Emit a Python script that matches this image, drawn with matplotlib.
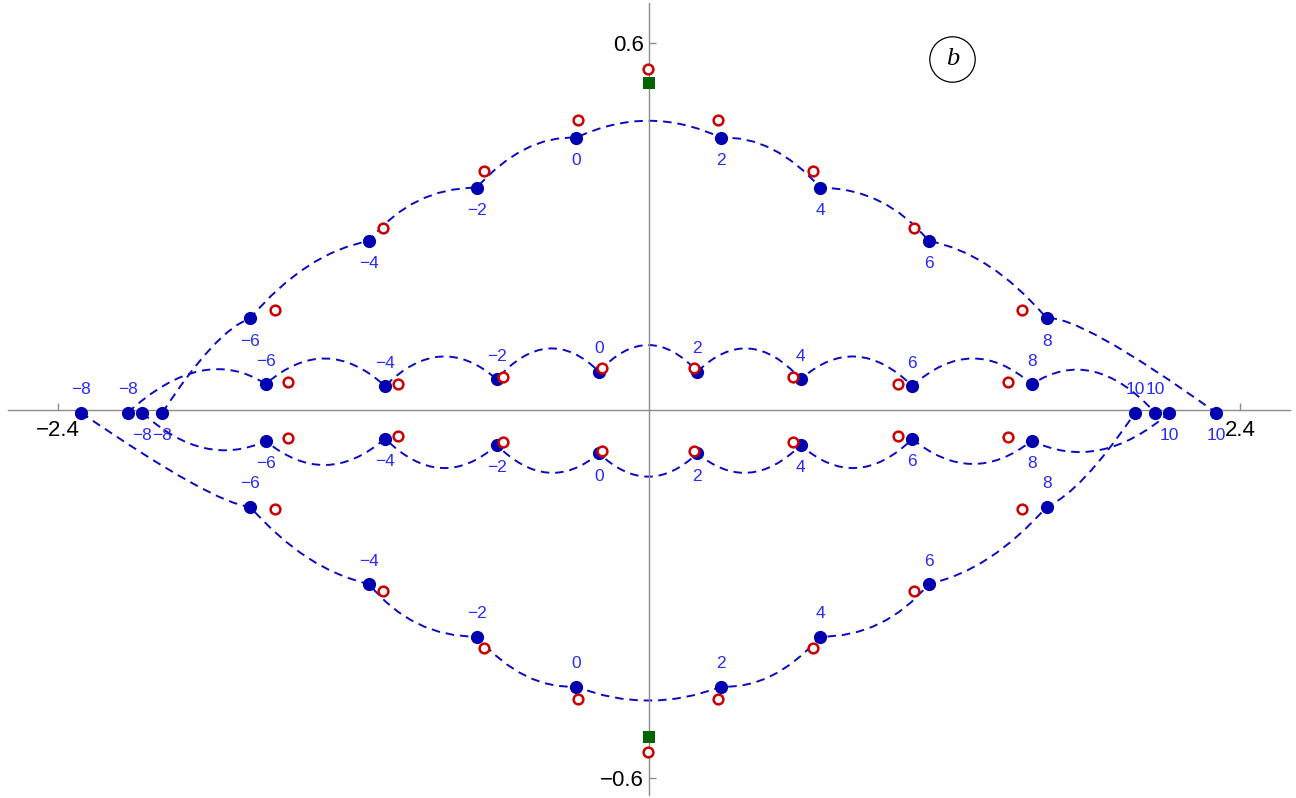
import numpy as np
import matplotlib.pyplot as plt
from matplotlib.path import Path
from matplotlib.patches import PathPatch

# index labels shared by all four branches
labels = [-8, -6, -4, -2, 0, 2, 4, 6, 8, 10]

# upper outer branch: dots and the middle of each dashed arc between them
uo_x = [-1.9773, -1.6211, -1.1379, -0.7005, -0.2973, 0.2916, 0.6948, 1.1350, 1.6142, 2.3017]
uo_y = [-0.0036, 0.1503, 0.2764, 0.3633, 0.4448, 0.4448, 0.3633, 0.2764, 0.1503, -0.0036]
uo_mx = [-1.7795, -1.3856, -0.9409, -0.5044, -0.0028, 0.4987, 0.9352, 1.3799, 1.8510]
uo_my = [0.1019, 0.2356, 0.3416, 0.4264, 0.4725, 0.4264, 0.3416, 0.2356, 0.1150]

# lower outer branch
lo_x = [-2.3074, -1.6211, -1.1379, -0.7005, -0.2973, 0.2916, 0.6948, 1.1350, 1.6142, 1.9728]
lo_y = [-0.0036, -0.1569, -0.2829, -0.3688, -0.4503, -0.4503, -0.3688, -0.2829, -0.1569, -0.0036]
lo_mx = [-1.8648, -1.3856, -0.9409, -0.5044, -0.0028, 0.4987, 0.9352, 1.3799, 1.7738]
lo_my = [-0.1166, -0.2405, -0.3475, -0.4323, -0.4732, -0.4323, -0.3475, -0.2405, -0.1068]

# upper inner branch
ui_x = [-2.1178, -1.5574, -1.0729, -0.6193, -0.2039, 0.1953, 0.6152, 1.0684, 1.5533, 2.0540]
ui_y = [-0.0036, 0.0432, 0.0399, 0.0509, 0.0633, 0.0633, 0.0509, 0.0399, 0.0427, -0.0036]
ui_mx = [-1.8242, -1.3145, -0.8455, -0.4110, -0.0041, 0.4053, 0.8398, 1.3109, 1.8022]
ui_my = [0.0644, 0.0848, 0.0880, 0.1011, 0.1068, 0.1011, 0.0880, 0.0848, 0.0636]

# lower inner branch
li_x = [-2.0585, -1.5574, -1.0729, -0.6193, -0.2039, 0.1953, 0.6152, 1.0684, 1.5533, 2.1121]
li_y = [-0.0036, -0.0497, -0.0458, -0.0563, -0.0698, -0.0698, -0.0563, -0.0465, -0.0492, -0.0036]
li_mx = [-1.8079, -1.3145, -0.8455, -0.4110, -0.0041, 0.4053, 0.8398, 1.3109, 1.8306]
li_my = [-0.0611, -0.0889, -0.0938, -0.1014, -0.1079, -0.1014, -0.0938, -0.0872, -0.0644]

# red open circles (approximate values)
red_outer_x = [-1.5196, -1.0822, -0.6709, -0.2879, 0.2806, 0.6640, 1.0753, 1.5127]
red_uo_y = [0.1639, 0.2981, 0.3905, 0.4737, 0.4737, 0.3905, 0.2981, 0.1639]
red_lo_y = [-0.1606, -0.2943, -0.3868, -0.4704, -0.4704, -0.3868, -0.2943, -0.1606]
red_inner_x = [-1.4656, -1.0189, -0.5949, -0.1917, 0.1831, 0.5852, 1.0116, 1.4583]
red_ui_y = [0.0470, 0.0427, 0.0551, 0.0688, 0.0688, 0.0551, 0.0432, 0.0470]
red_li_y = [-0.0443, -0.0411, -0.0509, -0.0655, -0.0655, -0.0509, -0.0411, -0.0427]
red_axis_x = [-0.006, -0.004]
red_axis_y = [0.5568, -0.5573]

# green squares on the imaginary axis
green_x = [0.0, -0.003]
green_y = [0.5335, -0.5329]

BLUE_DOT = '#0000b0'
BLUE_LINE = '#0a0ac0'
BLUE_TXT = '#2a2af5'
RED = '#cc0000'
GREEN = '#006400'
AXC = '#8c8c8c'


def arc_path(xs, ys, mx, my):
    # one quadratic arc per gap, passing through the read middle point
    verts = [(xs[0], ys[0])]
    codes = [Path.MOVETO]
    for i in range(len(mx)):
        cx = 2 * mx[i] - (xs[i] + xs[i + 1]) / 2
        cy = 2 * my[i] - (ys[i] + ys[i + 1]) / 2
        verts += [(cx, cy), (xs[i + 1], ys[i + 1])]
        codes += [Path.CURVE3, Path.CURVE3]
    return Path(verts, codes)


fig = plt.figure(figsize=(12.96, 7.98), dpi=100)
ax = fig.add_axes([8 / 1296, 3 / 798, 1282 / 1296, 792 / 798])
ax.set_xlim(-2.604, 2.602)
ax.set_ylim(-0.627, 0.6645)

branches = [
    (uo_x, uo_y, uo_mx, uo_my, -16.5),
    (lo_x, lo_y, lo_mx, lo_my, 16.5),
    (ui_x, ui_y, ui_mx, ui_my, 16.5),
    (li_x, li_y, li_mx, li_my, -16.5),
]

for xs, ys, mx, my, off in branches:
    ax.add_patch(PathPatch(arc_path(xs, ys, mx, my), fill=False, ec=BLUE_LINE,
                           lw=1.4, ls=(0, (4.4, 3.0)), zorder=2))
    ax.plot(xs, ys, 'o', ls='none', color=BLUE_DOT, ms=9.5, mew=0, zorder=3)
    for x, y, k in zip(xs, ys, labels):
        txt = str(k).replace('-', '\u2212')
        ax.annotate(txt, (x, y), xytext=(0, off), textcoords='offset points',
                    ha='center', va='center', color=BLUE_TXT, fontsize=12.5,
                    family='Liberation Sans', zorder=5)

red_kw = dict(ls='none', marker='o', ms=7, mfc='white', mec=RED, mew=1.8, zorder=4)
ax.plot(red_outer_x, red_uo_y, **red_kw)
ax.plot(red_outer_x, red_lo_y, **red_kw)
ax.plot(red_inner_x, red_ui_y, **red_kw)
ax.plot(red_inner_x, red_li_y, **red_kw)
ax.plot(red_axis_x, red_axis_y, **red_kw)
ax.plot(green_x, green_y, ls='none', marker='s', ms=8.5, color=GREEN, mew=0, zorder=4)

# axes through the origin
for side in ['top', 'right']:
    ax.spines[side].set_visible(False)
ax.spines['left'].set_position(('data', 0))
ax.spines['bottom'].set_position(('data', 0))
for side in ['left', 'bottom']:
    ax.spines[side].set_color(AXC)
    ax.spines[side].set_linewidth(1.0)
ax.patch.set_alpha(0)

ax.set_xticks([-2.4, 2.4])
ax.set_xticklabels(['\u22122.4', '2.4'])
ax.set_yticks([-0.6, 0.6])
ax.set_yticklabels(['\u22120.6', '0.6'])
ax.tick_params(direction='in', length=5, width=1, color=AXC, labelsize=16)
ax.tick_params(axis='x', pad=7)
ax.tick_params(axis='y', pad=4)
for lab in ax.get_xticklabels() + ax.get_yticklabels():
    lab.set_family('Liberation Sans')

# panel tag
ax.plot([0.7366], [0.9289], 'o', transform=ax.transAxes, ms=32.7, mfc='white',
        mec='black', mew=0.9, clip_on=False, zorder=6)
ax.text(0.7366, 0.9289, 'b', transform=ax.transAxes, ha='center', va='center',
        fontsize=19, style='italic', family='Liberation Serif', zorder=7)

fig.savefig('out.png', dpi=100)
